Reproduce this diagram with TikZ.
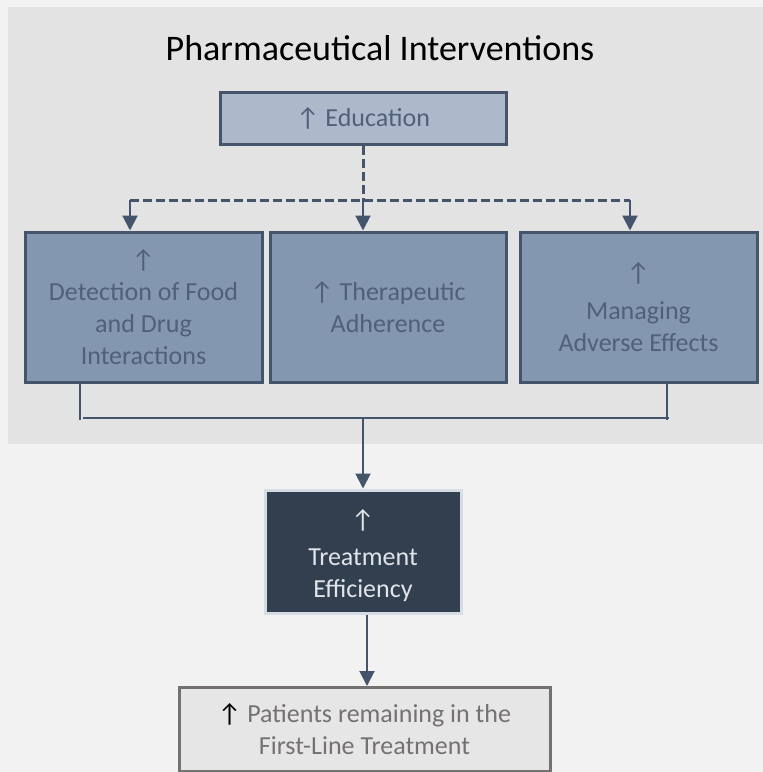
\documentclass[tikz,border=0pt]{standalone}
\usepackage{fontspec}
\setmainfont{Carlito}
\usetikzlibrary{arrows.meta}
\definecolor{pagebg}{HTML}{F2F2F2}
\definecolor{panelbg}{HTML}{E3E3E3}
\definecolor{slate}{HTML}{44546A}
\definecolor{slatetext}{HTML}{51607A}
\definecolor{lightslate}{HTML}{ADB9CA}
\definecolor{midslate}{HTML}{8497B0}
\definecolor{darkslate}{HTML}{323F4F}
\definecolor{paleedge}{HTML}{D6DCE4}
\definecolor{paletext}{HTML}{E1E5EA}
\definecolor{greyedge}{HTML}{767171}
\definecolor{greyfill}{HTML}{E7E6E6}
\tikzset{
  box/.style={rectangle, draw, line width=3pt, inner sep=0pt, align=center,
    font=\fontsize{26}{32}\selectfont},
  edubox/.style={box, fill=lightslate, draw=slate, text=slatetext},
  midbox/.style={box, fill=midslate, draw=slate, text=slatetext},
  effbox/.style={box, fill=darkslate, draw=paleedge, text=paletext},
  outbox/.style={box, fill=greyfill, draw=greyedge, text=greyedge},
  plaintext/.style={inner sep=0pt, align=center, font=\fontsize{26}{32}\selectfont},
  dashlink/.style={draw=slate, line width=3pt, dash pattern=on 9pt off 4pt},
  link/.style={draw=slate, line width=2pt},
  arrowlink/.style={link, -{Triangle[length=15pt,width=15pt]}},
}
\begin{document}
\begin{tikzpicture}[x=1pt,y=-1pt]
  % page and shaded panel
  \fill[pagebg] (0,0) rectangle (763,772);
  \useasboundingbox (0,0) rectangle (763,772);
  \fill[panelbg] (8,7) rectangle (763,444);

  \node (title) at (380,48) {\fontsize{36}{40}\selectfont Pharmaceutical Interventions};

  \node[edubox, minimum width=286pt, minimum height=52pt] (edu) at (363,118.5) {↑ Education};

  \node[midbox, minimum width=237pt, minimum height=150pt] (det) at (143.5,307)
    {↑\\Detection of Food\\and Drug\\Interactions};
  \node[midbox, minimum width=236pt, minimum height=150pt] (adh) at (388,307)
    {↑ Therapeutic\\Adherence};
  \node[midbox, minimum width=237pt, minimum height=150pt] (adv) at (638.5,307)
    {↑\\[6pt]Managing\\Adverse Effects};

  % efficiency box, with its text block set slightly low
  \node[effbox, minimum width=196pt, minimum height=123pt] (eff) at (363,551.5) {};
  \node[plaintext, text=paletext] (efftext) at (363,556)
    {↑\\[5pt]Treatment\\Efficiency};

  \node[outbox, minimum width=371pt, minimum height=84pt] (out) at (364.5,729.5)
    {{\color{black}↑} Patients remaining in the\\First-Line Treatment};

  % dashed fan-out from education
  \coordinate (dj) at (363,200);
  \coordinate (dl) at (130,200);
  \coordinate (dr) at (630,200);
  \draw[dashlink] (edu.south) -- (dj);
  \draw[dashlink] (dl) -- (dr);
  \draw[arrowlink] (dl) -- (dl |- det.north);
  \draw[arrowlink] (dj) -- (adh.north -| dj);
  \draw[arrowlink] (dr) -- (dr |- adv.north);

  % bracket collecting the three interventions
  \coordinate (cl) at (80,420);
  \coordinate (cr) at (667,420);
  \coordinate (hl) at (83,418);
  \coordinate (hr) at (669,418);
  \coordinate (hm) at (363,418);
  \draw[link, line width=1.6pt] (det.south -| cl) -- (cl);
  \draw[link, line width=1.6pt] (adv.south -| cr) -- (cr);
  \draw[link, line width=1.6pt] (hl) -- (hr);
  \draw[arrowlink] (hm) -- (eff.north -| hm);

  \draw[arrowlink] (eff.south -| 367,0) -- (out.north -| 367,0);
\end{tikzpicture}
\end{document}
